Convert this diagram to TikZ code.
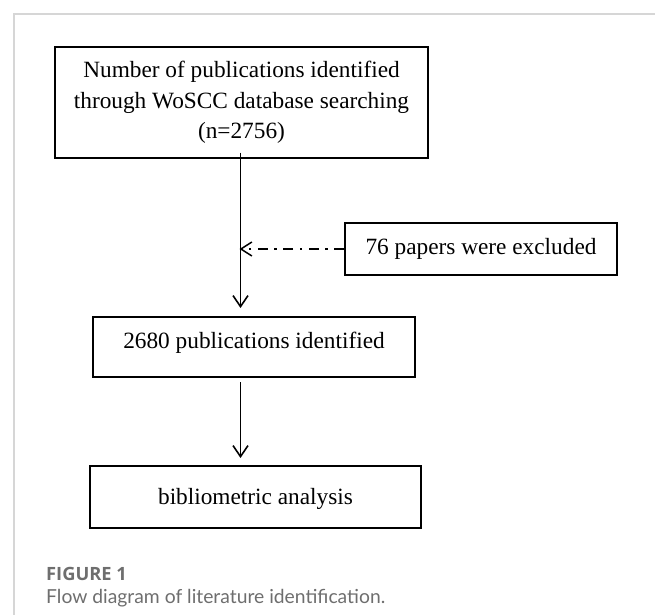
\documentclass[tikz,border=0pt]{standalone}
\usepackage{fontspec}
\setmainfont{Liberation Serif}
\newfontfamily\capfont{Lato}
\newfontfamily\capboldfont{Open Sans}
\usetikzlibrary{arrows.meta}
\definecolor{framegray}{HTML}{D6D6D6}
\definecolor{capgray}{HTML}{6E6E6E}
\tikzset{
  box/.style={draw=black, line width=2pt, inner sep=0pt, font=\fontsize{23.3}{30.5}\selectfont},
  flow/.style={line width=1.7pt, -{Straight Barb[length=11pt,width=15pt,line width=1.6pt]}},
  excl/.style={line width=1.6pt, dash pattern=on 10pt off 6.5pt on 2.5pt off 6.5pt, -{Straight Barb[length=11pt,width=14pt,line width=1.5pt]}},
  framerule/.style={draw=framegray, line width=1.5pt},
  capbold/.style={text=capgray, inner sep=0pt, anchor=base west, font=\capboldfont\bfseries\fontsize{18.3}{22}\selectfont},
  captext/.style={text=capgray, inner sep=0pt, anchor=base west, font=\capfont\fontsize{19.3}{22}\selectfont}
}
\begin{document}
\begin{tikzpicture}[x=1pt,y=-1pt]
\useasboundingbox (0,0) rectangle (655,615);
% frame
\coordinate (fr1) at (655,14);
\coordinate (fr2) at (14,14);
\coordinate (fr3) at (14,615);
\draw[framerule] (fr1) -- (fr2) -- (fr3);
% boxes
\node[box, anchor=center, minimum width=373pt, minimum height=111pt, align=center] (b1) at (241.5,102.5)
  {Number of publications identified\\through WoSCC database searching\\(n=2756)};
\node[box, anchor=north west, minimum width=272pt, text height=31pt, text depth=21pt] (ex) at (344,222) {76 papers were excluded};
\node[box, anchor=north west, minimum width=322pt, text height=31pt, text depth=29pt] (b2) at (92,316) {2680 publications identified};
\node[box, anchor=north west, minimum width=331pt, text height=38pt, text depth=24pt] (b3) at (89,465) {bibliometric analysis};
% axis of the vertical arrows
\coordinate (axis) at (240.5,0);
\draw[flow, shorten <=-6.5pt, shorten >=8pt] (b1.south -| axis) -- (b2.north -| axis);
\draw[flow, shorten <=4pt, shorten >=7pt] (b2.south -| axis) -- (b3.north -| axis);
\draw[excl, shorten >=-1pt] (ex.west) -- (ex.west -| axis);
% caption
\node[capbold] (cap1) at (46,580) {FIGURE 1};
\node[captext] (cap2) at (46,603) {Flow diagram of literature identification.};
\end{tikzpicture}
\end{document}
